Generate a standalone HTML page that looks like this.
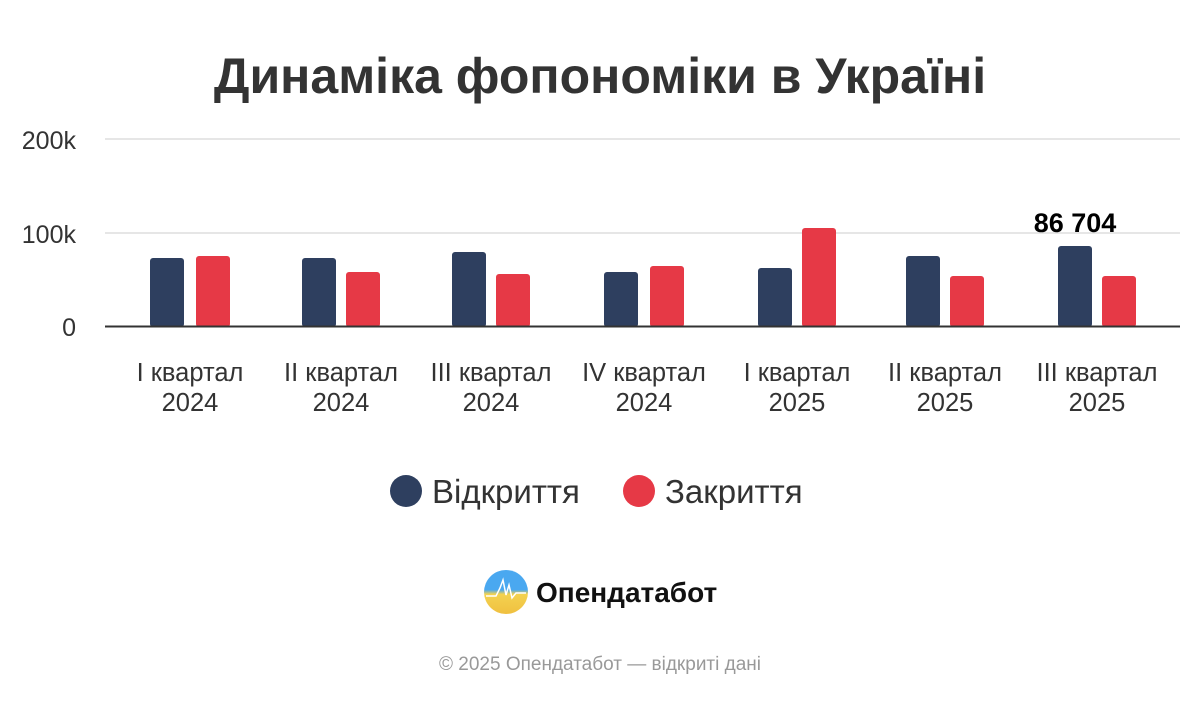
<!DOCTYPE html>
<html><head><meta charset="utf-8"><style>
body{margin:0;background:#fff;width:1200px;height:700px;overflow:hidden;font-family:"Liberation Sans",sans-serif}
</style></head><body>
<svg width="1200" height="700" xmlns="http://www.w3.org/2000/svg" font-family="Liberation Sans, sans-serif">
<text x="600" y="93" text-anchor="middle" font-size="50" font-weight="bold" fill="#333">Динаміка фопономіки в Україні</text>
<g stroke="#e6e6e6" stroke-width="2"><line x1="105" y1="139" x2="1180" y2="139"/><line x1="105" y1="233" x2="1180" y2="233"/></g>
<g font-size="25" fill="#333" text-anchor="end"><text x="76" y="149">200k</text><text x="76" y="243">100k</text><text x="76" y="336">0</text></g>
<g>
<rect x="150" y="258" width="34" height="69" rx="3" fill="#2e3f5f"/><rect x="196" y="256" width="34" height="71" rx="3" fill="#e63946"/>
<rect x="302" y="258" width="34" height="69" rx="3" fill="#2e3f5f"/><rect x="346" y="272" width="34" height="55" rx="3" fill="#e63946"/>
<rect x="452" y="252" width="34" height="75" rx="3" fill="#2e3f5f"/><rect x="496" y="274" width="34" height="53" rx="3" fill="#e63946"/>
<rect x="604" y="272" width="34" height="55" rx="3" fill="#2e3f5f"/><rect x="650" y="266" width="34" height="61" rx="3" fill="#e63946"/>
<rect x="758" y="268" width="34" height="59" rx="3" fill="#2e3f5f"/><rect x="802" y="228" width="34" height="99" rx="3" fill="#e63946"/>
<rect x="906" y="256" width="34" height="71" rx="3" fill="#2e3f5f"/><rect x="950" y="276" width="34" height="51" rx="3" fill="#e63946"/>
<rect x="1058" y="246" width="34" height="81" rx="3" fill="#2e3f5f"/><rect x="1102" y="276" width="34" height="51" rx="3" fill="#e63946"/>
</g>
<line x1="105" y1="326.5" x2="1180" y2="326.5" stroke="#333" stroke-width="2"/>
<text x="1075" y="232" text-anchor="middle" font-size="27" font-weight="bold" fill="#000">86 704</text>
<g font-size="25.5" fill="#333" text-anchor="middle">
<text x="190" y="381">I квартал</text><text x="190" y="411">2024</text>
<text x="341" y="381">II квартал</text><text x="341" y="411">2024</text>
<text x="491" y="381">III квартал</text><text x="491" y="411">2024</text>
<text x="644" y="381">IV квартал</text><text x="644" y="411">2024</text>
<text x="797" y="381">I квартал</text><text x="797" y="411">2025</text>
<text x="945" y="381">II квартал</text><text x="945" y="411">2025</text>
<text x="1097" y="381">III квартал</text><text x="1097" y="411">2025</text>
</g>
<circle cx="406" cy="491" r="16" fill="#2e3f5f"/><text x="432" y="503" font-size="33" fill="#333">Відкриття</text>
<circle cx="639" cy="491" r="16" fill="#e63946"/><text x="665" y="503" font-size="33" fill="#333">Закриття</text>
<defs><linearGradient id="g" x1="0" y1="0" x2="0" y2="1"><stop offset="0.45" stop-color="#4aa8f0"/><stop offset="0.55" stop-color="#f3d250"/><stop offset="1" stop-color="#f0c040"/></linearGradient></defs>
<circle cx="506" cy="592" r="22" fill="url(#g)"/>
<polyline points="486,596 496,596 500,588 503,580 506,595 509,585 512,598 516,593 526,593" fill="none" stroke="#fff" stroke-width="1.5"/>
<text x="536" y="602" font-size="28" font-weight="bold" fill="#111">Опендатабот</text>
<text x="600" y="670" text-anchor="middle" font-size="19" fill="#999">© 2025 Опендатабот — відкриті дані</text>
</svg>
</body></html>
